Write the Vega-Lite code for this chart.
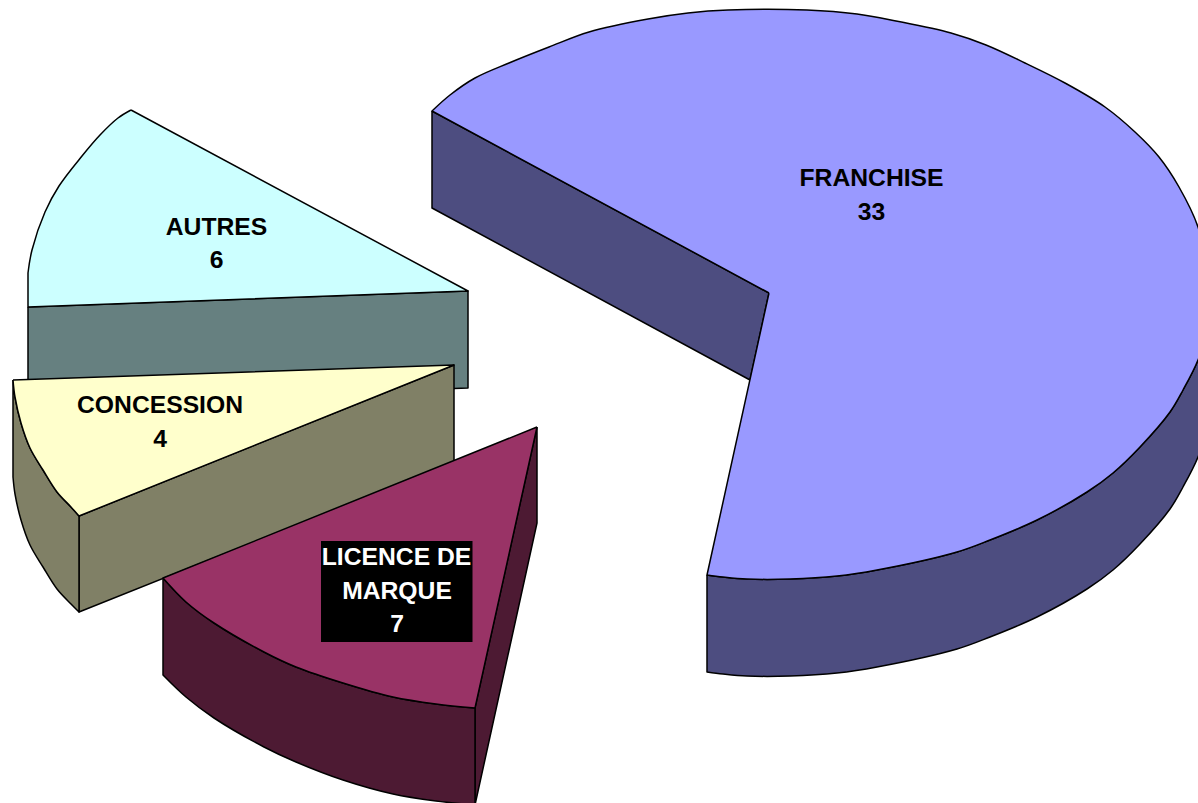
{
"$schema":"https://vega.github.io/schema/vega-lite/v6.json",
"width":1198,"height":803,"padding":0,"autosize":{"type":"none"},
"background":"white",
"config":{"view":{"stroke":null}},
"datasets":{
"pieces":[
{"piece":"FW1","i":1,"x":432,"y":111},{"piece":"FW1","i":1.5,"x":432,"y":111},{"piece":"FW1","i":2,"x":769,"y":293},{"piece":"FW1","i":2.5,"x":769,"y":293},{"piece":"FW1","i":3,"x":750,"y":380},{"piece":"FW1","i":3.5,"x":750,"y":380},{"piece":"FW1","i":4,"x":432,"y":208},{"piece":"FW1","i":4.5,"x":432,"y":208},{"piece":"FW1","i":5,"x":432,"y":111},
{"piece":"FW2","i":1,"x":707,"y":575},{"piece":"FW2","i":1.5,"x":707,"y":575},{"piece":"FW2","i":2,"x":707,"y":672},{"piece":"FW2","i":2.5,"x":707,"y":672},{"piece":"FW2","i":3,"x":723,"y":674},{"piece":"FW2","i":4,"x":747,"y":676},{"piece":"FW2","i":5,"x":790,"y":676},{"piece":"FW2","i":6,"x":837,"y":673},{"piece":"FW2","i":7,"x":877,"y":667},{"piece":"FW2","i":8,"x":957,"y":649},{"piece":"FW2","i":9,"x":990,"y":637},{"piece":"FW2","i":10,"x":1037,"y":617},{"piece":"FW2","i":11,"x":1087,"y":589},{"piece":"FW2","i":12,"x":1113,"y":570},{"piece":"FW2","i":13,"x":1140,"y":544},{"piece":"FW2","i":14,"x":1170,"y":509},{"piece":"FW2","i":15,"x":1183,"y":487},{"piece":"FW2","i":16,"x":1198,"y":457},{"piece":"FW2","i":17,"x":1207,"y":427},{"piece":"FW2","i":17.5,"x":1207,"y":427},{"piece":"FW2","i":18,"x":1207,"y":330},{"piece":"FW2","i":18.5,"x":1207,"y":330},{"piece":"FW2","i":19,"x":1198,"y":360},{"piece":"FW2","i":20,"x":1183,"y":390},{"piece":"FW2","i":21,"x":1170,"y":412},{"piece":"FW2","i":22,"x":1140,"y":447},{"piece":"FW2","i":23,"x":1113,"y":473},{"piece":"FW2","i":24,"x":1087,"y":492},{"piece":"FW2","i":25,"x":1037,"y":520},{"piece":"FW2","i":26,"x":990,"y":540},{"piece":"FW2","i":27,"x":957,"y":552},{"piece":"FW2","i":28,"x":877,"y":570},{"piece":"FW2","i":29,"x":837,"y":576},{"piece":"FW2","i":30,"x":790,"y":579},{"piece":"FW2","i":31,"x":747,"y":579},{"piece":"FW2","i":32,"x":723,"y":577},{"piece":"FW2","i":33,"x":707,"y":575},
{"piece":"FT","i":1,"x":769,"y":293},{"piece":"FT","i":1.5,"x":769,"y":293},{"piece":"FT","i":2,"x":432,"y":111},{"piece":"FT","i":2.5,"x":432,"y":111},{"piece":"FT","i":3,"x":450,"y":95},{"piece":"FT","i":4,"x":475,"y":78},{"piece":"FT","i":5,"x":509,"y":63},{"piece":"FT","i":6,"x":549,"y":47},{"piece":"FT","i":7,"x":589,"y":32},{"piece":"FT","i":8,"x":648,"y":19},{"piece":"FT","i":9,"x":688,"y":13},{"piece":"FT","i":10,"x":728,"y":10},{"piece":"FT","i":11,"x":807,"y":10},{"piece":"FT","i":12,"x":857,"y":14},{"piece":"FT","i":13,"x":896,"y":21},{"piece":"FT","i":14,"x":951,"y":33},{"piece":"FT","i":15,"x":986,"y":45},{"piece":"FT","i":16,"x":1025,"y":63},{"piece":"FT","i":17,"x":1065,"y":83},{"piece":"FT","i":18,"x":1105,"y":107},{"piece":"FT","i":19,"x":1135,"y":132},{"piece":"FT","i":20,"x":1159,"y":157},{"piece":"FT","i":21,"x":1179,"y":187},{"piece":"FT","i":22,"x":1198,"y":227},{"piece":"FT","i":23,"x":1207,"y":270},{"piece":"FT","i":24,"x":1210,"y":295},{"piece":"FT","i":25,"x":1207,"y":330},{"piece":"FT","i":26,"x":1198,"y":360},{"piece":"FT","i":27,"x":1183,"y":390},{"piece":"FT","i":28,"x":1170,"y":412},{"piece":"FT","i":29,"x":1140,"y":447},{"piece":"FT","i":30,"x":1113,"y":473},{"piece":"FT","i":31,"x":1087,"y":492},{"piece":"FT","i":32,"x":1037,"y":520},{"piece":"FT","i":33,"x":990,"y":540},{"piece":"FT","i":34,"x":957,"y":552},{"piece":"FT","i":35,"x":877,"y":570},{"piece":"FT","i":36,"x":837,"y":576},{"piece":"FT","i":37,"x":790,"y":579},{"piece":"FT","i":38,"x":747,"y":579},{"piece":"FT","i":39,"x":723,"y":577},{"piece":"FT","i":40,"x":707,"y":575},{"piece":"FT","i":40.5,"x":707,"y":575},{"piece":"FT","i":41,"x":769,"y":293},
{"piece":"AW","i":1,"x":28,"y":307},{"piece":"AW","i":1.5,"x":28,"y":307},{"piece":"AW","i":2,"x":468,"y":291},{"piece":"AW","i":2.5,"x":468,"y":291},{"piece":"AW","i":3,"x":468,"y":388},{"piece":"AW","i":3.5,"x":468,"y":388},{"piece":"AW","i":4,"x":28,"y":404},{"piece":"AW","i":4.5,"x":28,"y":404},{"piece":"AW","i":5,"x":28,"y":307},
{"piece":"AT","i":1,"x":131,"y":110},{"piece":"AT","i":2,"x":118,"y":118},{"piece":"AT","i":3,"x":100,"y":135},{"piece":"AT","i":4,"x":82,"y":156},{"piece":"AT","i":5,"x":59,"y":186},{"piece":"AT","i":6,"x":45,"y":212},{"piece":"AT","i":7,"x":32,"y":250},{"piece":"AT","i":8,"x":28,"y":273},{"piece":"AT","i":8.5,"x":28,"y":273},{"piece":"AT","i":9,"x":28,"y":307},{"piece":"AT","i":9.5,"x":28,"y":307},{"piece":"AT","i":10,"x":468,"y":291},{"piece":"AT","i":10.5,"x":468,"y":291},{"piece":"AT","i":11,"x":131,"y":110},
{"piece":"CW1","i":1,"x":79,"y":516},{"piece":"CW1","i":1.5,"x":79,"y":516},{"piece":"CW1","i":2,"x":454,"y":365},{"piece":"CW1","i":2.5,"x":454,"y":365},{"piece":"CW1","i":3,"x":454,"y":462},{"piece":"CW1","i":3.5,"x":454,"y":462},{"piece":"CW1","i":4,"x":79,"y":612},{"piece":"CW1","i":4.5,"x":79,"y":612},{"piece":"CW1","i":5,"x":79,"y":516},
{"piece":"CW2","i":1,"x":13,"y":380},{"piece":"CW2","i":1.5,"x":13,"y":380},{"piece":"CW2","i":2,"x":13,"y":477},{"piece":"CW2","i":2.5,"x":13,"y":477},{"piece":"CW2","i":3,"x":15,"y":494},{"piece":"CW2","i":4,"x":21,"y":520},{"piece":"CW2","i":5,"x":30,"y":545},{"piece":"CW2","i":6,"x":43,"y":567},{"piece":"CW2","i":7,"x":57,"y":589},{"piece":"CW2","i":8,"x":71,"y":604},{"piece":"CW2","i":9,"x":79,"y":612},{"piece":"CW2","i":9.5,"x":79,"y":612},{"piece":"CW2","i":10,"x":79,"y":516},{"piece":"CW2","i":10.5,"x":79,"y":516},{"piece":"CW2","i":11,"x":71,"y":507},{"piece":"CW2","i":12,"x":57,"y":492},{"piece":"CW2","i":13,"x":43,"y":470},{"piece":"CW2","i":14,"x":30,"y":448},{"piece":"CW2","i":15,"x":21,"y":423},{"piece":"CW2","i":16,"x":15,"y":397},{"piece":"CW2","i":17,"x":13,"y":380},
{"piece":"CT","i":1,"x":13,"y":380},{"piece":"CT","i":1.5,"x":13,"y":380},{"piece":"CT","i":2,"x":454,"y":365},{"piece":"CT","i":2.5,"x":454,"y":365},{"piece":"CT","i":3,"x":79,"y":516},{"piece":"CT","i":3.5,"x":79,"y":516},{"piece":"CT","i":4,"x":71,"y":507},{"piece":"CT","i":5,"x":57,"y":492},{"piece":"CT","i":6,"x":43,"y":470},{"piece":"CT","i":7,"x":30,"y":448},{"piece":"CT","i":8,"x":21,"y":423},{"piece":"CT","i":9,"x":15,"y":397},{"piece":"CT","i":10,"x":13,"y":380},
{"piece":"LW1","i":1,"x":537,"y":427},{"piece":"LW1","i":1.5,"x":537,"y":427},{"piece":"LW1","i":2,"x":537,"y":523},{"piece":"LW1","i":2.5,"x":537,"y":523},{"piece":"LW1","i":3,"x":475,"y":805},{"piece":"LW1","i":3.5,"x":475,"y":805},{"piece":"LW1","i":4,"x":475,"y":708},{"piece":"LW1","i":4.5,"x":475,"y":708},{"piece":"LW1","i":5,"x":537,"y":427},
{"piece":"LW2","i":1,"x":163,"y":578},{"piece":"LW2","i":1.5,"x":163,"y":578},{"piece":"LW2","i":2,"x":163,"y":675},{"piece":"LW2","i":2.5,"x":163,"y":675},{"piece":"LW2","i":3,"x":186,"y":697},{"piece":"LW2","i":4,"x":214,"y":718},{"piece":"LW2","i":5,"x":264,"y":747},{"piece":"LW2","i":6,"x":296,"y":762},{"piece":"LW2","i":7,"x":343,"y":780},{"piece":"LW2","i":8,"x":393,"y":794},{"piece":"LW2","i":9,"x":436,"y":801},{"piece":"LW2","i":10,"x":475,"y":805},{"piece":"LW2","i":10.5,"x":475,"y":805},{"piece":"LW2","i":11,"x":475,"y":708},{"piece":"LW2","i":11.5,"x":475,"y":708},{"piece":"LW2","i":12,"x":436,"y":704},{"piece":"LW2","i":13,"x":393,"y":697},{"piece":"LW2","i":14,"x":343,"y":683},{"piece":"LW2","i":15,"x":296,"y":667},{"piece":"LW2","i":16,"x":264,"y":652},{"piece":"LW2","i":17,"x":214,"y":623},{"piece":"LW2","i":18,"x":186,"y":602},{"piece":"LW2","i":19,"x":163,"y":578},
{"piece":"LT","i":1,"x":537,"y":427},{"piece":"LT","i":1.5,"x":537,"y":427},{"piece":"LT","i":2,"x":163,"y":578},{"piece":"LT","i":2.5,"x":163,"y":578},{"piece":"LT","i":3,"x":186,"y":602},{"piece":"LT","i":4,"x":214,"y":623},{"piece":"LT","i":5,"x":264,"y":652},{"piece":"LT","i":6,"x":296,"y":667},{"piece":"LT","i":7,"x":343,"y":683},{"piece":"LT","i":8,"x":393,"y":697},{"piece":"LT","i":9,"x":436,"y":704},{"piece":"LT","i":10,"x":475,"y":708},{"piece":"LT","i":10.5,"x":475,"y":708},{"piece":"LT","i":11,"x":537,"y":427}
],
"labels":[
{"line":"FRANCHISE","x":871.5,"y":179,"tone":"dark"},{"line":"33","x":871.5,"y":213,"tone":"dark"},
{"line":"AUTRES","x":216.5,"y":228,"tone":"dark"},{"line":"6","x":216.5,"y":261,"tone":"dark"},
{"line":"CONCESSION","x":160,"y":406,"tone":"dark"},{"line":"4","x":160,"y":440,"tone":"dark"},
{"line":"LICENCE DE","x":396.5,"y":558,"tone":"light"},{"line":"MARQUE","x":397,"y":592,"tone":"light"},{"line":"7","x":397,"y":625,"tone":"light"}
],
"box":[{"x":321,"x2":472.5,"y":541,"y2":642}]
},
"encoding":{
"x":{"field":"x","type":"quantitative","axis":null,"scale":{"domain":[0,1198],"nice":false,"zero":false}},
"y":{"field":"y","type":"quantitative","axis":null,"scale":{"domain":[803,0],"nice":false,"zero":false}}
},
"layer":[
{"data":{"name":"pieces"},
"mark":{"type":"line","stroke":"black","strokeWidth":1.5,"clip":true,"interpolate":"catmull-rom","strokeJoin":"round"},
"encoding":{
"fill":{"field":"piece","type":"nominal","legend":null,"scale":{"domain":["FW1","FW2","FT","AW","AT","CW1","CW2","CT","LW1","LW2","LT"],"range":["#4D4D80","#4D4D80","#9999FF","#668080","#CCFFFF","#808066","#808066","#FFFFCC","#4D1A33","#4D1A33","#993366"]}},
"order":{"field":"i","type":"quantitative"}
}},
{"data":{"name":"box"},"mark":{"type":"rect","fill":"black"},"encoding":{"x2":{"field":"x2"},"y2":{"field":"y2"}}},
{"data":{"name":"labels"},
"mark":{"type":"text","font":"Liberation Sans","fontWeight":"bold","fontSize":24.7,"align":"center","baseline":"middle"},
"encoding":{"text":{"field":"line"},"color":{"field":"tone","type":"nominal","legend":null,"scale":{"domain":["dark","light"],"range":["black","white"]}}}}
]
}
